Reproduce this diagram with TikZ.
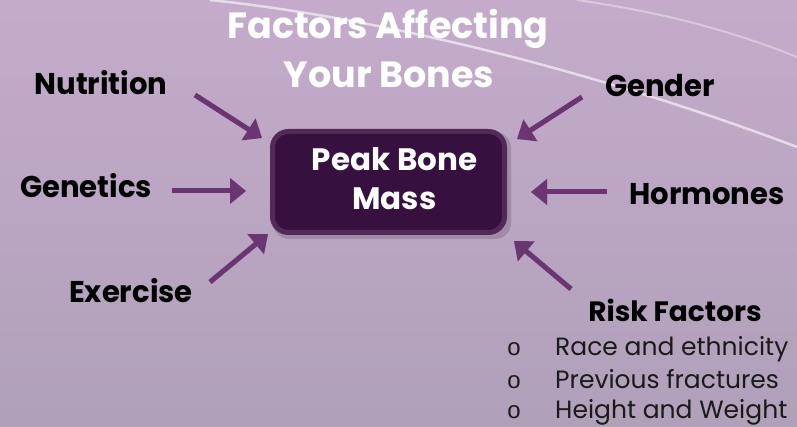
\documentclass[tikz,border=0pt]{standalone}
\usepackage{fontspec}
\setmainfont{Poppins}
\newfontfamily\condfont{Poppins}[FakeStretch=0.97]
\newfontfamily\bulletfont{Liberation Sans}
\usetikzlibrary{arrows.meta}
\definecolor{bgtop}{HTML}{C4ABCB}
\definecolor{bgbot}{HTML}{B0A0B9}
\definecolor{arrowc}{HTML}{6A3570}
\definecolor{boxfill}{HTML}{36103F}
\definecolor{boxedge}{HTML}{522A57}
\definecolor{listc}{HTML}{1A1A1A}
\tikzset{
  factor/.style={font=\condfont\bfseries\fontsize{30}{32}\selectfont, text=black, inner sep=0pt, anchor=base},
  titletext/.style={font=\bfseries\fontsize{36.5}{40}\selectfont, text=white, inner sep=0pt, anchor=base},
  boxtext/.style={font=\bfseries\fontsize{31}{34}\selectfont, text=white, inner sep=0pt, anchor=base},
  risktitle/.style={font=\bfseries\fontsize{28}{30}\selectfont, text=black, inner sep=0pt, anchor=base},
  listitem/.style={font=\fontsize{25}{28}\selectfont, text=listc, inner sep=0pt, anchor=base west},
  bullet/.style={font=\bulletfont\fontsize{24}{26}\selectfont, text=listc, inner sep=0pt, anchor=base},
  factorarrow/.style={draw=arrowc, line width=5pt, -{Triangle[length=16pt,width=25pt]}},
  arrowshadow/.style={draw=black, opacity=0.18, line width=5pt, -{Triangle[length=16pt,width=25pt]}},
  swoosh/.style={draw=white, opacity=0.6, line width=2.5pt},
  swooshb/.style={draw=white, opacity=0.35, line width=2pt}
}
\begin{document}
\begin{tikzpicture}[x=1pt,y=-1pt]
\useasboundingbox (0,0) rectangle (797,427);
\shade[top color=bgtop, bottom color=bgbot] (0,0) rectangle (797,427);
% background swooshes
\draw[swoosh] (210,0) .. controls (400,20) and (620,80) .. (797,147);
\draw[swooshb] (577,0) .. controls (660,12) and (730,30) .. (797,57);
% title
\node[titletext] (t1) at (388,39) {Factors Affecting};
\node[titletext] (t2) at (389,88) {Your Bones};
% central box
\fill[black, opacity=0.15, rounded corners=16pt] (273,132) rectangle (511,239);
\draw[fill=boxfill, draw=boxedge, line width=5pt, rounded corners=16pt] (272.5,131.5) rectangle (504.5,232.5);
\coordinate (box) at (388,182);
\node[boxtext] (pb1) at (394.5,171) {Peak Bone};
\node[boxtext] (pb2) at (394.5,210) {Mass};
% labels
\node[factor] (nut) at (101,95) {Nutrition};
\node[factor] (gen) at (86,198) {Genetics};
\node[factor] (exe) at (131,302) {Exercise};
\node[factor] (gend) at (660,97) {Gender};
\node[factor] (horm) at (707,205) {Hormones};
\node[risktitle] (risk) at (675,322) {Risk Factors};
% list
\node[bullet] (b1) at (514,355) {o};
\node[bullet] (b2) at (514,388) {o};
\node[bullet] (b3) at (514,418) {o};
\node[listitem] (l1) at (555,355) {Race and ethnicity};
\node[listitem] (l2) at (555,388) {Previous fractures};
\node[listitem] (l3) at (555,418) {Height and Weight};
% arrow coordinates
\coordinate (nutS) at (195,95);
\coordinate (nutE) at (262,138);
\coordinate (genS) at (172,191);
\coordinate (genE) at (246,191);
\coordinate (exeS) at (210,282);
\coordinate (exeE) at (268,234);
\coordinate (gendS) at (582,97);
\coordinate (gendE) at (517,139);
\coordinate (hormS) at (607,192);
\coordinate (hormE) at (531,192);
\coordinate (riskS) at (571,289);
\coordinate (riskE) at (514,241);
% shadows
\begin{scope}[shift={(2,3)}]
\foreach \s/\e in {nutS/nutE, genS/genE, exeS/exeE, gendS/gendE, hormS/hormE, riskS/riskE}
  \draw[arrowshadow] (\s) -- (\e);
\end{scope}
% arrows
\foreach \s/\e in {nutS/nutE, genS/genE, exeS/exeE, gendS/gendE, hormS/hormE, riskS/riskE}
  \draw[factorarrow] (\s) -- (\e);
\end{tikzpicture}
\end{document}
